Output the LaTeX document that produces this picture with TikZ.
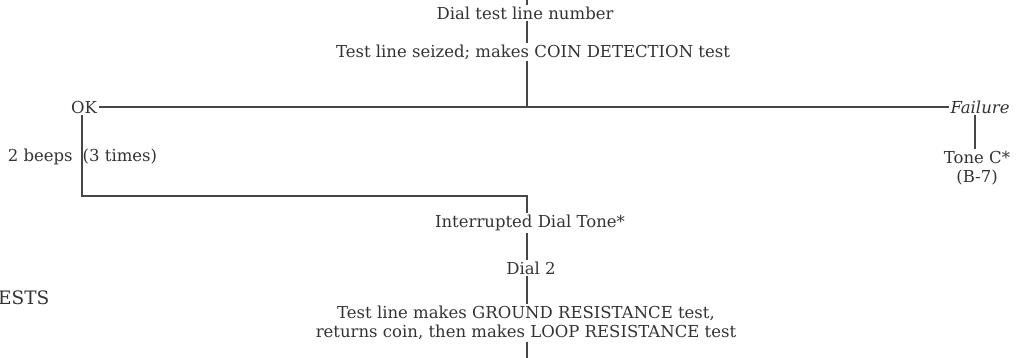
\documentclass[tikz,border=0pt]{standalone}
\usepackage{fontspec}
\setmainfont{DejaVu Serif}
\begin{document}
\begin{tikzpicture}[x=1pt,y=-1pt,
  txt/.style={inner sep=1.5pt, text=black!80, font=\fontsize{16.5}{19}\selectfont, align=center},
  conn/.style={draw=black!72, line width=1.2pt}]
\useasboundingbox (0,0) rectangle (1017,358);
% main axis coordinates
\coordinate (top) at (527,0);
\coordinate (bot) at (527,358);
\coordinate (j1) at (527,107);
\coordinate (j2) at (527,196);
\coordinate (okc) at (82,196);
\coordinate (okx) at (82,107);
\coordinate (fx) at (975,107);

\node[txt] (dial) at (525,13) {Dial test line number};
\node[txt] (seized) at (533,52) {Test line seized; makes COIN DETECTION test};
\node[txt] (ok) at (84,107) {OK};
\node[txt] (fail) at (980,107) {\itshape Failure};
\node[txt] (beeps) at (82.5,157) {2 beeps\hspace{10pt}(3 times)};
\node[txt] (tonec) at (977,168) {Tone C*\\(B-7)};
\node[txt] (intr) at (530,223) {Interrupted Dial Tone*};
\node[txt] (dial2) at (531,268) {Dial 2};
\node[txt] (ground) at (526,323) {Test line makes GROUND RESISTANCE test,\\returns coin, then makes LOOP RESISTANCE test};
\node[txt, font=\fontsize{18.5}{22}\selectfont, anchor=east] (ests) at (51,298) {ESTS};

\draw[conn] (top) -- (top |- dial.north);
\draw[conn] (top |- dial.south) -- (top |- seized.north);
\draw[conn] (top |- seized.south) -- (j1);
\draw[conn] (ok.east) -- (fail.west);
\draw[conn] (okx |- ok.south) -- (okc) -- (j2) -- (j2 |- intr.north);
\draw[conn] (fx |- fail.south) -- (fx |- tonec.north);
\draw[conn] (j2 |- intr.south) -- (j2 |- dial2.north);
\draw[conn] (j2 |- dial2.south) -- (j2 |- ground.north);
\draw[conn] (j2 |- ground.south) -- (bot);
\end{tikzpicture}
\end{document}
